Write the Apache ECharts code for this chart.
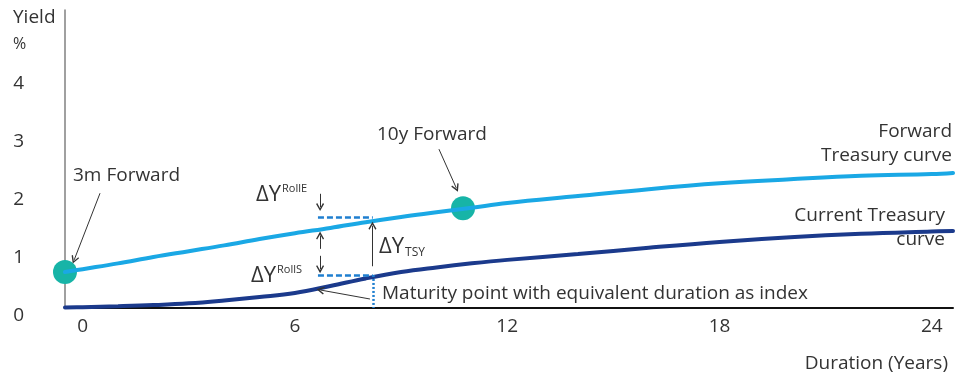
<!DOCTYPE html>
<html>
<head>
<meta charset="utf-8">
<script src="https://cdn.jsdelivr.net/npm/echarts@6/dist/echarts.min.js"></script>
<style>
html,body{margin:0;padding:0;background:#fff;}
#chart{width:969px;height:377px;}
</style>
</head>
<body>
<div id="chart"></div>
<script>
// ---- data ----
const durations = [-0.5, 0, 1, 2, 3, 4, 5, 6, 7, 8, 9, 10, 11, 12, 14, 16, 18, 20, 22, 24, 24.6];
const forwardYield = [0.62, 0.67, 0.77, 0.88, 0.98, 1.08, 1.19, 1.29, 1.38, 1.48, 1.57, 1.65, 1.73, 1.81, 1.93, 2.05, 2.15, 2.22, 2.28, 2.31, 2.33];
const currentYield = [0.01, 0.015, 0.03, 0.05, 0.08, 0.13, 0.19, 0.26, 0.38, 0.51, 0.62, 0.70, 0.77, 0.83, 0.93, 1.04, 1.14, 1.22, 1.28, 1.32, 1.33];
const forwardPoints = [[-0.5, 0.62], [10.75, 1.72]];
const xTicks = [0, 6, 12, 18, 24];
const yTicks = [0, 1, 2, 3, 4];
const xMin = -0.5, xMax = 24.6, yMin = 0, yMax = 5.14;
// annotation anchors (data units)
const indexDuration = 8.2;
const rollELevel = 1.57;
const rollSLevel = 0.57;
const rollStart = 6.65;
const rollArrowX = 6.71;

const FONT = '"Open Sans", "Noto Sans", sans-serif';
const TXT = '#333333';

const chart = echarts.init(document.getElementById('chart'));

const chev = 'path://M5,0 L10,9 L8.6,10 L5,3.6 L1.4,10 L0,9 Z';
function arrow(from, to) {
  return [
    {coord: from, symbol: 'none', lineStyle: {color: '#333', width: 1, type: 'solid'}},
    {coord: to, symbol: chev, symbolSize: [8, 8]}
  ];
}
function dashLine(from, to, type) {
  return [
    {coord: from, symbol: 'none', lineStyle: {color: '#1f7fd0', width: 2.5, type: type}},
    {coord: to, symbol: 'none'}
  ];
}

function txt(text, x, y, size, align) {
  return {
    type: 'text', x: x, y: y, silent: true,
    style: {text: text, font: size + 'px ' + FONT, fill: TXT, align: align || 'left', verticalAlign: 'middle'}
  };
}
function deltaY(x, y, idx, sub) {
  return {
    type: 'text', x: x, y: y, silent: true,
    style: {
      text: '{a|\u0394Y}{b|' + idx + '}',
      fill: TXT, align: 'left', verticalAlign: 'middle',
      rich: {
        a: {fontSize: 22, fontFamily: FONT, color: TXT, lineHeight: 24},
        b: {fontSize: sub ? 12 : 11, fontFamily: FONT, color: TXT, verticalAlign: sub ? 'bottom' : 'top', lineHeight: 13, padding: [0, 0, 0, 1]}
      }
    }
  };
}

const texts = [
  txt('Yield', 13, 18, 19),
  txt('%', 13, 44, 16),
  txt('3m Forward', 73, 176, 19),
  txt('10y Forward', 377, 135, 19),
  txt('Forward', 952, 132, 19, 'right'),
  txt('Treasury curve', 952, 156, 19, 'right'),
  txt('Current Treasury', 945, 216, 19, 'right'),
  txt('curve', 945, 240, 19, 'right'),
  txt('Maturity point with equivalent duration as index', 382, 294, 19),
  txt('Duration (Years)', 948, 364, 19, 'right'),
  deltaY(256, 195, 'RollE', false),
  deltaY(251, 276, 'RollS', false),
  deltaY(379, 247, 'TSY', true)
];

chart.setOption({
  animation: false,
  backgroundColor: '#ffffff',
  grid: {left: 65, right: 16, top: 10, bottom: 69, containLabel: false},
  xAxis: {
    type: 'value', min: xMin, max: xMax,
    axisLine: {show: true, onZero: false, lineStyle: {color: '#111111', width: 2}},
    axisTick: {show: false},
    splitLine: {show: false},
    axisLabel: {customValues: xTicks, color: TXT, fontSize: 19, fontFamily: FONT, margin: 9}
  },
  yAxis: {
    type: 'value', min: yMin, max: yMax,
    axisLine: {show: true, onZero: false, lineStyle: {color: '#808080', width: 1.5}},
    axisTick: {show: false},
    splitLine: {show: false},
    axisLabel: {customValues: yTicks, color: TXT, fontSize: 19, fontFamily: FONT, margin: 41, align: 'right', verticalAlign: 'top', lineHeight: 16}
  },
  series: [
    {
      name: 'Current Treasury curve', type: 'line', smooth: 0.4, showSymbol: false, silent: true,
      data: durations.map((d, i) => [d, currentYield[i]]),
      lineStyle: {color: '#1b3a8c', width: 4, cap: 'round'},
      z: 3
    },
    {
      name: 'Forward Treasury curve', type: 'line', smooth: 0.4, showSymbol: false, silent: true,
      data: durations.map((d, i) => [d, forwardYield[i]]),
      lineStyle: {color: '#1aa8e5', width: 4, cap: 'round'},
      markLine: {
        silent: true, animation: false, label: {show: false}, emphasis: {disabled: true},
        data: [
          dashLine([rollStart, rollELevel], [indexDuration, rollELevel], [6, 3]),
          dashLine([rollStart, rollSLevel], [indexDuration, rollSLevel], [6, 3]),
          dashLine([indexDuration, rollSLevel], [indexDuration, 0], [2, 2]),
          arrow([8.19, 0.72], [8.19, 1.42]),
          arrow([rollArrowX, 1.97], [rollArrowX, 1.74]),
          arrow([rollArrowX, 1.02], [rollArrowX, 1.25]),
          arrow([rollArrowX, 0.90], [rollArrowX, 0.67]),
          arrow([8.12, 0.155], [6.72, 0.31]),
          arrow([0.49, 1.98], [-0.24, 0.83]),
          arrow([10.07, 2.74], [10.56, 2.07])
        ]
      }
    },
    {
      name: 'Forward points', type: 'scatter', clip: false, silent: true,
      data: forwardPoints, symbolSize: 24,
      itemStyle: {color: '#17b4a7', opacity: 1}
    }
  ],
  graphic: texts
});
</script>
</body>
</html>
